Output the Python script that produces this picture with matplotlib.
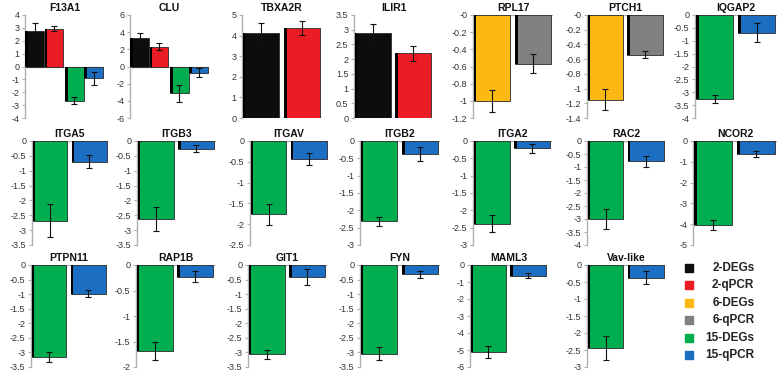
import numpy as np
import matplotlib
matplotlib.use("Agg")
import matplotlib.pyplot as plt

plt.rcParams['font.family'] = ['Liberation Sans', 'DejaVu Sans']

# Данные: гены, значения, ошибки, серии
genes = ["F13A1", "CLU", "TBXA2R", "ILIR1", "RPL17", "PTCH1", "IQGAP2",
         "ITGA5", "ITGB3", "ITGAV", "ITGB2", "ITGA2", "RAC2", "NCOR2",
         "PTPN11", "RAP1B", "GIT1", "FYN", "MAML3", "Vav-like"]

values = [[2.75, 2.95, -2.65, -0.9], [3.3, 2.3, -3.1, -0.7], [4.12, 4.38], [2.9, 2.2],
          [-1.0, -0.57], [-1.15, -0.54], [-3.25, -0.68],
          [-2.68, -0.7], [-2.62, -0.26], [-1.76, -0.43], [-2.32, -0.38], [-2.38, -0.21],
          [-3.0, -0.78], [-4.02, -0.63],
          [-3.15, -0.98], [-1.68, -0.23], [-3.07, -0.41], [-3.05, -0.32], [-5.12, -0.63],
          [-2.44, -0.37]]

errors = [[0.6, 0.22, 0.28, 0.5], [0.55, 0.4, 1.0, 0.55], [0.5, 0.35], [0.3, 0.25],
          [0.13, 0.11], [0.14, 0.05], [0.15, 0.38],
          [0.55, 0.22], [0.4, 0.11], [0.25, 0.15], [0.12, 0.2], [0.25, 0.13],
          [0.4, 0.22], [0.24, 0.14],
          [0.17, 0.13], [0.18, 0.11], [0.17, 0.28], [0.22, 0.13], [0.33, 0.16],
          [0.34, 0.2]]

series = [["2-DEGs", "2-qPCR", "15-DEGs", "15-qPCR"]] * 2 + \
         [["2-DEGs", "2-qPCR"]] * 2 + [["6-DEGs", "6-qPCR"]] * 2 + \
         [["15-DEGs", "15-qPCR"]] * 14

# (min, max, step) для оси y
yaxis = [(-4, 4, 1), (-6, 6, 2), (0, 5, 1), (0, 3.5, 0.5), (-1.2, 0, 0.2), (-1.4, 0, 0.2),
         (-4, 0, 0.5), (-3.5, 0, 0.5), (-3.5, 0, 0.5), (-2.5, 0, 0.5), (-3, 0, 0.5),
         (-3, 0, 0.5), (-4, 0, 0.5), (-5, 0, 1), (-3.5, 0, 0.5), (-2, 0, 0.5),
         (-3.5, 0, 0.5), (-3.5, 0, 0.5), (-6, 0, 1), (-3, 0, 0.5)]

legend_labels = ["2-DEGs", "2-qPCR", "6-DEGs", "6-qPCR", "15-DEGs", "15-qPCR"]
legend_colors = ["#0d0d0d", "#ec1c24", "#fdb913", "#808080", "#00ad4f", "#1b6ec2"]
colors = dict(zip(legend_labels, legend_colors))

# положение осей в пикселях: (x0, x1) по строкам
col_px = [[(25, 104), (130, 209), (242, 322), (354, 433), (473, 553), (587, 664), (695, 777)],
          [(32, 108), (137, 216), (250, 328), (360, 440), (473, 552), (587, 665), (693, 777)],
          [(31, 107), (136, 215), (248, 327), (360, 440), (470, 547), (587, 665)]]
row_px = [(15, 118), (141, 245), (265, 367)]

W, H = 778, 373
fig = plt.figure(figsize=(W / 100, H / 100), dpi=100)

k = 0
for r, cols in enumerate(col_px):
    y0, y1 = row_px[r]
    for (x0, x1) in cols:
        ax = fig.add_axes([x0 / W, 1 - y1 / H, (x1 - x0) / W, (y1 - y0) / H])
        vals = values[k]
        errs = errors[k]
        ser = series[k]
        if len(vals) == 4:
            pos = np.array([0.5, 1.5, 2.6, 3.6])
            width = 0.95
            ax.set_xlim(0, 4.15)
        else:
            pos = np.array([0.5, 1.58])
            width = 0.96
            ax.set_xlim(0, 2.1)
        ax.bar(pos, vals, width=width, color=[colors[s] for s in ser],
               edgecolor="#2a2a2a", linewidth=0.6, zorder=2)
        # тёмная "тень" слева от столбца
        sw = 0.07 * (ax.get_xlim()[1] / 2.1)
        ax.bar(pos - width / 2 + sw / 2, vals, width=sw, color="#000000",
               linewidth=0, zorder=3)
        ax.errorbar(pos, vals, yerr=errs, fmt="none", ecolor="#111111",
                    elinewidth=0.8, capsize=2, capthick=0.8, zorder=4)
        lo, hi, st = yaxis[k]
        ax.set_ylim(lo, hi)
        ticks = np.round(np.arange(lo, hi + st / 2, st), 2)
        ax.set_yticks(ticks)
        ax.set_yticklabels([f"{t:g}" for t in ticks])
        ax.axhline(0, color="#b0b0b0", linewidth=1.0, zorder=1)
        for sp in ["top", "right", "bottom"]:
            ax.spines[sp].set_visible(False)
        ax.spines["left"].set_color("#b0b0b0")
        ax.spines["left"].set_linewidth(1.0)
        ax.set_xticks([])
        ax.tick_params(axis="y", length=2, width=0.8, color="#b0b0b0",
                       labelsize=6.5, labelcolor="#333333", pad=2)
        ax.set_title(genes[k], fontsize=7.5, fontweight="bold", pad=3, color="#111111")
        k += 1

# легенда
lax = fig.add_axes([684 / W, 1 - 365 / H, 88 / W, 105 / H])
lax.set_xlim(0, 1)
lax.set_ylim(0, 6)
lax.axis("off")
for i, (lab, col) in enumerate(zip(legend_labels, legend_colors)):
    yy = 5.55 - i * 1.0
    lax.scatter([0.06], [yy], marker="s", s=30, color=col)
    lax.text(0.8, yy, lab, ha="right", va="center", fontsize=8.5,
             fontweight="bold", color="#222222")

fig.savefig("out.png", dpi=100)
